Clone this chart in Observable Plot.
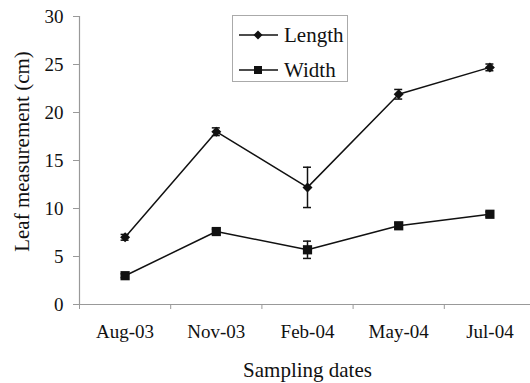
<!DOCTYPE html>
<html>
<head>
<meta charset="utf-8">
<script src="https://cdn.jsdelivr.net/npm/d3@7"></script>
<script src="https://cdn.jsdelivr.net/npm/@observablehq/plot@0.6"></script>
<style>
  body { margin: 0; background: #fff; }
  #wrap { position: relative; width: 530px; height: 383px; overflow: hidden; font-family: "Liberation Serif", "DejaVu Serif", "Times New Roman", Times, serif; }
  #wrap svg text { font-family: "Liberation Serif", "DejaVu Serif", "Times New Roman", Times, serif; }
  #legend { position: absolute; left: 232px; top: 15px; width: 116px; height: 67px; border: 1px solid #aaa; background: #fff; box-sizing: border-box; font-size: 21px; color: #111; }
  #legend .row { position: absolute; left: 0; height: 24px; display: flex; align-items: center; }
  #legend svg { margin-left: 6px; }
  #legend span { margin-left: 6px; }
</style>
</head>
<body>
<div id="wrap"></div>
<script>
const dates = ["Aug-03", "Nov-03", "Feb-04", "May-04", "Jul-04"];
const lengthMean = [7.0, 18.0, 12.2, 21.9, 24.7];
const lengthErr = [0.3, 0.4, 2.1, 0.5, 0.35];
const widthMean = [3.0, 7.6, 5.7, 8.2, 9.4];
const widthErr = [0.2, 0.25, 0.9, 0.3, 0.25];
const yTicks = [0, 5, 10, 15, 20, 25, 30];
const seriesNames = ["Length", "Width"];

const rows = [];
dates.forEach((d, i) => {
  rows.push({series: "Length", date: d, x: i + 0.5, y: lengthMean[i], lo: lengthMean[i] - lengthErr[i], hi: lengthMean[i] + lengthErr[i]});
  rows.push({series: "Width", date: d, x: i + 0.5, y: widthMean[i], lo: widthMean[i] - widthErr[i], hi: widthMean[i] + widthErr[i]});
});
const len = rows.filter(r => r.series === "Length");
const wid = rows.filter(r => r.series === "Width");
const boundaries = d3.range(dates.length + 1);
const centers = dates.map((d, i) => i + 0.5);
const serif = "'Liberation Serif', 'DejaVu Serif', 'Times New Roman', Times, serif";

const chart = Plot.plot({
  width: 530,
  height: 383,
  marginLeft: 79,
  marginRight: -5,
  marginTop: 16,
  marginBottom: 79,
  style: {fontFamily: serif, fontSize: "19px", color: "#111", background: "#fff"},
  x: {domain: [0, dates.length]},
  y: {domain: [0, 30]},
  marks: [
    Plot.ruleY([0], {stroke: "#999", strokeWidth: 1.2}),
    Plot.ruleX([0], {stroke: "#999", strokeWidth: 1.2}),
    Plot.axisY({ticks: yTicks, tickSize: 6, tickPadding: 10, stroke: "#999", fontSize: 19,
      label: "Leaf measurement (cm)", labelAnchor: "center", labelArrow: "none", labelOffset: 65}),
    Plot.axisX({ticks: boundaries, tickSize: 5, tickFormat: () => "", stroke: "#999", label: null}),
    Plot.axisX({ticks: centers, tickSize: 0, tickPadding: 20, fontSize: 19,
      tickFormat: v => dates[Math.floor(v)], label: "Sampling dates", labelAnchor: "center", labelArrow: "none", labelOffset: 72}),
    Plot.line(len, {x: "x", y: "y", stroke: "#111", strokeWidth: 1.5}),
    Plot.line(wid, {x: "x", y: "y", stroke: "#111", strokeWidth: 1.5}),
    Plot.ruleX(rows, {x: "x", y1: "lo", y2: "hi", stroke: "#111", strokeWidth: 1.5}),
    Plot.ruleY(rows, {y: "hi", x1: "x", x2: "x", insetLeft: -4, insetRight: -4, stroke: "#111", strokeWidth: 1.5}),
    Plot.ruleY(rows, {y: "lo", x1: "x", x2: "x", insetLeft: -4, insetRight: -4, stroke: "#111", strokeWidth: 1.5}),
    Plot.dot(len, {x: "x", y: "y", symbol: "diamond2", r: 4.5, fill: "#111", stroke: "none"}),
    Plot.dot(wid, {x: "x", y: "y", symbol: "square", r: 5.2, fill: "#111", stroke: "none"})
  ]
});
chart.querySelectorAll("[aria-label='y-axis label'] text, [aria-label='x-axis label'] text").forEach(t => t.style.fontSize = "21px");
chart.querySelectorAll("[aria-label='y-axis label'] text").forEach(t => t.setAttribute("dx", "9"));
const wrap = document.getElementById("wrap");
wrap.appendChild(chart);

const legend = document.createElement("div");
legend.id = "legend";
const symbols = {Length: "M19,2.5 L23.5,7 L19,11.5 L14.5,7 Z", Width: "M15,3 H23 V11 H15 Z"};
seriesNames.forEach((name, i) => {
  const row = document.createElement("div");
  row.className = "row";
  row.style.top = (7 + i * 35) + "px";
  row.innerHTML = `<svg width="39" height="14"><line x1="0" x2="39" y1="7" y2="7" stroke="#111" stroke-width="1.5"/><path d="${symbols[name]}" fill="#111"/></svg><span>${name}</span>`;
  legend.appendChild(row);
});
wrap.appendChild(legend);
</script>
</body>
</html>
